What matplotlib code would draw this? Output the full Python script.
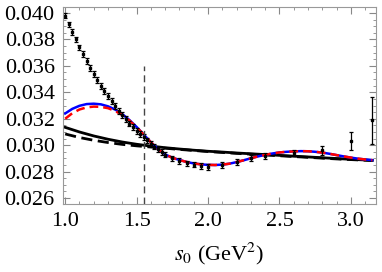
import numpy as np
import matplotlib
matplotlib.use('Agg')
from matplotlib import pyplot as plt
from matplotlib.ticker import MultipleLocator

plt.rcParams['font.family'] = ['Liberation Serif', 'DejaVu Serif']
plt.rcParams['mathtext.fontset'] = 'stix'

# data points (s0, value, error)
s_pts = [1.0, 1.025, 1.05, 1.075, 1.1, 1.125, 1.15, 1.175, 1.2, 1.225,
         1.25, 1.275, 1.3, 1.325, 1.35, 1.375, 1.4, 1.425, 1.45, 1.475,
         1.5, 1.525, 1.55, 1.575, 1.6, 1.625, 1.65, 1.675, 1.7,
         1.75, 1.8, 1.85, 1.9, 1.95, 2.0,
         2.1, 2.2, 2.3, 2.4, 2.6, 2.8, 3.0, 3.15]
y_pts = [0.03980, 0.03914, 0.03858, 0.03800, 0.03740, 0.03689, 0.03636, 0.03585, 0.03538, 0.03492,
         0.03449, 0.03409, 0.03371, 0.03333, 0.03295, 0.03260, 0.03227, 0.03197, 0.03164, 0.03136,
         0.03108, 0.03085, 0.03060, 0.03036, 0.03012, 0.02990, 0.02968, 0.02948, 0.02928,
         0.02900, 0.02880, 0.02862, 0.02853, 0.02843, 0.02834,
         0.02850, 0.02872, 0.02902, 0.02918, 0.02941, 0.02961, 0.03030, 0.03189]
err_pts = [0.00021] * 39 + [0.00025, 0.00034, 0.00066, 0.00177]

# fit curves
s_fit = [1.0, 1.05, 1.1, 1.15, 1.2, 1.25, 1.3, 1.35, 1.4, 1.45, 1.5, 1.55, 1.6, 1.65,
         1.7, 1.75, 1.8, 1.85, 1.9, 1.95, 2.0, 2.05, 2.1, 2.15, 2.2, 2.25, 2.3, 2.35,
         2.4, 2.45, 2.5, 2.55, 2.6, 2.65, 2.7, 2.75, 2.8, 2.85, 2.9, 2.95, 3.0, 3.05,
         3.1, 3.15]
blue_fit = [0.03240, 0.03275, 0.03298, 0.03311, 0.03314, 0.03309, 0.03294, 0.03270,
            0.03235, 0.03190, 0.03138, 0.03080, 0.03022, 0.02970, 0.02930, 0.02905,
            0.02888, 0.02873, 0.02862, 0.02855, 0.02851, 0.02850, 0.02853, 0.02860,
            0.02872, 0.02886, 0.02901, 0.02915, 0.02927, 0.02937, 0.02945, 0.02950,
            0.02953, 0.02955, 0.02954, 0.02950, 0.02944, 0.02935, 0.02925, 0.02915,
            0.02906, 0.02898, 0.02892, 0.02887]
red_fit = [0.03200, 0.03242, 0.03270, 0.03286, 0.03292, 0.03290, 0.03280, 0.03259,
           0.03228, 0.03186, 0.03136, 0.03080, 0.03022, 0.02970, 0.02930, 0.02905,
           0.02888, 0.02873, 0.02862, 0.02855, 0.02851, 0.02850, 0.02853, 0.02860,
           0.02872, 0.02886, 0.02901, 0.02915, 0.02927, 0.02937, 0.02945, 0.02950,
           0.02953, 0.02955, 0.02954, 0.02950, 0.02944, 0.02935, 0.02925, 0.02915,
           0.02906, 0.02898, 0.02892, 0.02887]

s_blk = [1.0, 1.1, 1.2, 1.3, 1.4, 1.5, 1.6, 1.7, 1.8, 1.9, 2.0, 2.1, 2.2, 2.3, 2.4,
         2.5, 2.6, 2.7, 2.8, 2.9, 3.0, 3.1, 3.15]
blk_solid = [0.03135, 0.03100, 0.03070, 0.03045, 0.03024, 0.03007, 0.02993, 0.02981,
             0.02971, 0.02962, 0.02954, 0.02948, 0.02941, 0.02935, 0.02929, 0.02923,
             0.02917, 0.02911, 0.02905, 0.02899, 0.02893, 0.02888, 0.02885]
blk_dash = [0.03085, 0.03058, 0.03037, 0.03020, 0.03006, 0.02995, 0.02986, 0.02977,
            0.02968, 0.02960, 0.02952, 0.02945, 0.02938, 0.02932, 0.02926, 0.02920,
            0.02914, 0.02908, 0.02902, 0.02896, 0.02891, 0.02886, 0.02884]

s_cut = 1.55

fig = plt.figure(figsize=(3.82, 2.72), dpi=100)
ax = fig.add_axes([0.165, 0.25, 0.819, 0.724])

ax.plot(s_blk, blk_solid, color='black', lw=2.0)
ax.plot(s_blk, blk_dash, color='black', lw=2.0, dashes=(4, 2))
ax.plot(s_fit, blue_fit, color='blue', lw=1.8)
ax.plot(s_fit, red_fit, color='red', lw=1.8, dashes=(3.5, 2))
ax.errorbar(s_pts, y_pts, yerr=err_pts, fmt='s', color='black', ms=1.5,
            elinewidth=0.9, capsize=1.6, capthick=0.9)
ax.vlines(s_cut, 0.02555, 0.0360, color='#444444', lw=1.0, linestyles=(0, (5, 3)))

ax.set_xlim(0.985, 3.175)
ax.set_ylim(0.02555, 0.04045)
ax.xaxis.set_major_locator(MultipleLocator(0.5))
ax.xaxis.set_minor_locator(MultipleLocator(0.1))
ax.yaxis.set_major_locator(MultipleLocator(0.002))
ax.yaxis.set_minor_locator(MultipleLocator(0.0005))
ax.xaxis.set_major_formatter(matplotlib.ticker.FormatStrFormatter('%.1f'))
ax.yaxis.set_major_formatter(matplotlib.ticker.FormatStrFormatter('%.3f'))
ax.tick_params(which='both', direction='in', top=True, right=True, color='#888888',
               labelsize=16, pad=6)
ax.tick_params(which='major', length=5, width=0.8)
ax.tick_params(which='minor', length=2.5, width=0.6)
for sp in ax.spines.values():
    sp.set_color('#999999')
    sp.set_linewidth(0.8)

ax.set_xlabel(r'$s_0$ (GeV$^2$)', fontsize=16, labelpad=7)

fig.savefig('out.png', dpi=100)
